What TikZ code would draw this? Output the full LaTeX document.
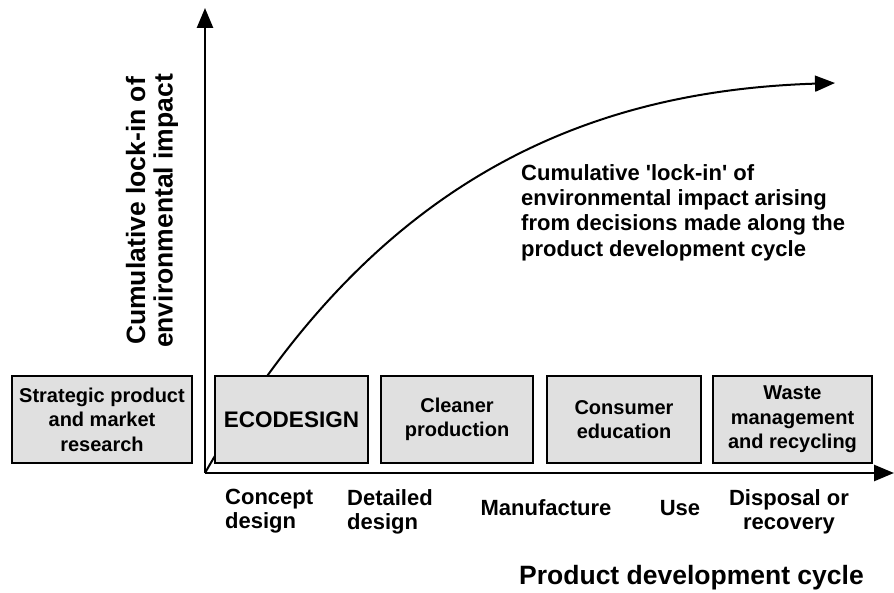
\documentclass[tikz,border=0pt]{standalone}
\usepackage{fontspec}
\setmainfont{Liberation Sans}
\usetikzlibrary{arrows.meta}
\tikzset{
  stagebox/.style={draw=black, line width=2.6pt, fill=black!12, minimum height=87pt, align=center, inner sep=0pt,
    font=\fontsize{20}{24.5}\selectfont\bfseries},
  axisline/.style={line width=2.6pt, -{Triangle[length=20pt,width=16pt]}},
  curveline/.style={line width=2pt, -{Triangle[length=20pt,width=16pt]}},
  phaselabel/.style={inner sep=0pt, font=\fontsize{22}{24}\selectfont\bfseries},
  titlelabel/.style={inner sep=0pt, font=\fontsize{26.5}{27.5}\selectfont\bfseries},
}
\begin{document}
\begin{tikzpicture}[x=1pt,y=-1pt]
\useasboundingbox (0,0) rectangle (894,593);
\coordinate (origin) at (205,473);
\coordinate (ytip) at (205,8);
\coordinate (xtip) at (894,473);
\coordinate (curveend) at (835,83);
% curve (drawn first; boxes hide part of it)
\draw[curveline] (origin) .. controls (372,180) and (585,91) .. (curveend);
% axes
\draw[axisline] (origin) -- (ytip);
\draw[axisline] (origin) -- (xtip);
% boxes
\node[stagebox, minimum width=180pt] (strat) at (102,419.5) {Strategic product\\and market\\research};
\node[stagebox, minimum width=153pt, font=\fontsize{22.5}{24}\selectfont\bfseries] (eco) at (291.5,419.5) {ECODESIGN};
\node[stagebox, minimum width=152pt] (clean) at (457,419.5) {Cleaner\\production};
\node[stagebox, minimum width=154pt] (cons) at (624,419.5) {Consumer\\education};
\node[stagebox, minimum width=159pt] (waste) at (792.5,419.5) {Waste\\management\\and recycling};
% phase labels
\node[phaselabel, anchor=north west, align=left] (concept) at (225,489) {Concept\\design};
\node[phaselabel, anchor=north west, align=left] (detailed) at (347,489) {Detailed\\design};
\node[phaselabel] (manuf) at (546,508) {Manufacture};
\node[phaselabel] (use) at (680,508) {Use};
\node[phaselabel, anchor=north, align=center] (disposal) at (789,489) {Disposal or\\recovery};
% titles
\node[titlelabel, anchor=base west] (xtitle) at (519,584) {Product development cycle};
\node[titlelabel, rotate=90, align=center] (ytitle) at (152,211) {Cumulative lock-in of\\environmental impact};
% annotation
\node[inner sep=0pt, anchor=north west, align=left, font=\fontsize{22}{25.3}\selectfont\bfseries] (note) at (521,164)
  {Cumulative \textquotesingle lock-in\textquotesingle\ of\\environmental impact arising\\from decisions made along the\\product development cycle};
\end{tikzpicture}
\end{document}
